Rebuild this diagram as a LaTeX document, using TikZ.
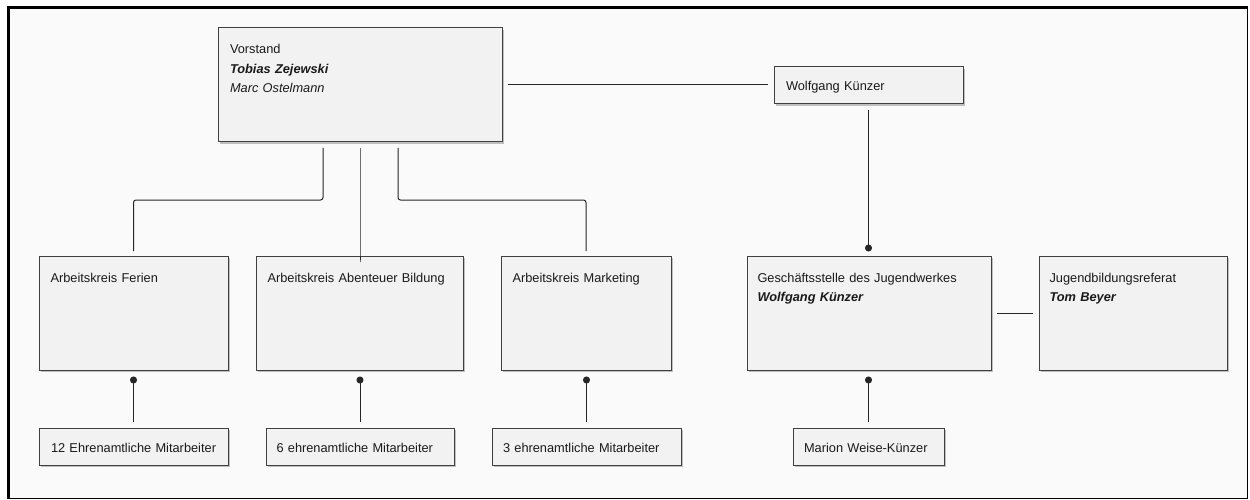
\documentclass[tikz,border=0pt]{standalone}
\usepackage{fontspec}
\setmainfont{Liberation Sans}
\usetikzlibrary{arrows.meta,shadows}
\definecolor{pagebg}{HTML}{FAFAFA}
\definecolor{boxfill}{HTML}{F2F2F2}
\definecolor{boxline}{HTML}{404040}
\definecolor{wireclr}{HTML}{262626}
\definecolor{txt}{HTML}{1A1A1A}
\begin{document}
\begin{tikzpicture}[x=1pt,y=-1pt,
  orgbox/.style={draw=boxline, fill=boxfill, line width=1pt, rectangle,
    inner sep=0pt, outer sep=0pt, anchor=north west,
    drop shadow={shadow xshift=1.6pt, shadow yshift=-1.6pt, fill=black!40, opacity=0.6}},
  lbl/.style={anchor=base west, inner sep=0pt, outer sep=0pt, text=txt,
    font=\fontsize{12.8}{19.4}\selectfont, align=left, text width=240pt},
  wire/.style={draw=wireclr, line width=1pt},
  dotwire/.style={wire, -{Circle[length=7pt]}},
]
\useasboundingbox (0,0) rectangle (1250,500);

% sheet with its bevelled frame
\fill[white] (0,0) rectangle (1250,500);
\fill[pagebg] (7,7) rectangle (1247.5,498.5);
\draw[black, line width=1pt] (1247.5,7) -- (1247.5,498.5) -- (7,498.5);
\fill[black] (7,6) rectangle (1247.5,9);
\fill[black] (7,6) rectangle (10,498.5);

% boxes
\node[orgbox, minimum width=284pt, minimum height=114pt] (vor) at (218,28) {};
\node[orgbox, minimum width=189pt, minimum height=37pt]  (wk)  at (774,67) {};
\node[orgbox, minimum width=189pt, minimum height=114pt] (fer) at (39,256) {};
\node[orgbox, minimum width=207pt, minimum height=114pt] (abe) at (256,256) {};
\node[orgbox, minimum width=170pt, minimum height=114pt] (mar) at (501,256) {};
\node[orgbox, minimum width=244pt, minimum height=114pt] (gs)  at (747,256) {};
\node[orgbox, minimum width=188pt, minimum height=114pt] (jbr) at (1039,256) {};
\node[orgbox, minimum width=189pt, minimum height=37pt]  (e1)  at (39,428) {};
\node[orgbox, minimum width=188pt, minimum height=37pt]  (e2)  at (266,428) {};
\node[orgbox, minimum width=189pt, minimum height=37pt]  (e3)  at (492,428) {};
\node[orgbox, minimum width=151pt, minimum height=37pt]  (mw)  at (793,428) {};

% box texts
\node[lbl] (vorT) at ([shift={(12,26)}]vor.north west)
  {Vorstand\\\textbf{\textit{Tobias Zejewski}}\\\textit{Marc Ostelmann}};
\node[lbl] (wkT) at ([shift={(12,24)}]wk.north west) {Wolfgang Künzer};
\node[lbl] (ferT) at ([shift={(11.5,26.5)}]fer.north west) {Arbeitskreis Ferien};
\node[lbl] (abeT) at ([shift={(11.5,26.5)}]abe.north west) {Arbeitskreis Abenteuer Bildung};
\node[lbl] (marT) at ([shift={(11.5,26.5)}]mar.north west) {Arbeitskreis Marketing};
\node[lbl] (gsT) at ([shift={(10.5,26.5)}]gs.north west)
  {Geschäftsstelle des Jugendwerkes\\\textbf{\textit{Wolfgang Künzer}}};
\node[lbl] (jbrT) at ([shift={(10.5,26.5)}]jbr.north west)
  {Jugendbildungsreferat\\\textbf{\textit{Tom Beyer}}};
\node[lbl] (e1T) at ([shift={(12,24)}]e1.north west) {12 Ehrenamtliche Mitarbeiter};
\node[lbl] (e2T) at ([shift={(10.5,24)}]e2.north west) {6 ehrenamtliche Mitarbeiter};
\node[lbl] (e3T) at ([shift={(11,24)}]e3.north west) {3 ehrenamtliche Mitarbeiter};
\node[lbl] (mwT) at ([shift={(11,24)}]mw.north west) {Marion Weise-Künzer};

% connectors
\draw[wire, shorten <=6pt, shorten >=6pt] (vor.east) -- (vor.east -| wk.west);
\draw[dotwire, shorten <=6pt, shorten >=4.5pt] (wk.south) -- (wk.south |- gs.north);
\draw[wire, shorten <=6pt, shorten >=6pt] (gs.east) -- (jbr.west);

\draw[wire, rounded corners=2.5pt] ([xshift=-37pt,yshift=-6pt]vor.south) -- ++(0,52)
  -| ([yshift=5pt]fer.north);
\draw[wire] ([yshift=-6pt]vor.south) -- ([yshift=-6pt]vor.south |- abe.north) -- ++(0,-5);
\draw[wire, rounded corners=2.5pt] ([xshift=38pt,yshift=-6pt]vor.south) -- ++(0,52)
  -| ([yshift=5pt]mar.north);

\draw[dotwire, shorten <=6pt, shorten >=6.5pt] (e1.north) -- (e1.north |- fer.south);
\draw[dotwire, shorten <=6pt, shorten >=6.5pt] (e2.north) -- (e2.north |- abe.south);
\draw[dotwire, shorten <=6pt, shorten >=6.5pt] (e3.north) -- (e3.north |- mar.south);
\draw[dotwire, shorten <=6pt, shorten >=6.5pt] (mw.north) -- (mw.north |- gs.south);
\end{tikzpicture}
\end{document}
